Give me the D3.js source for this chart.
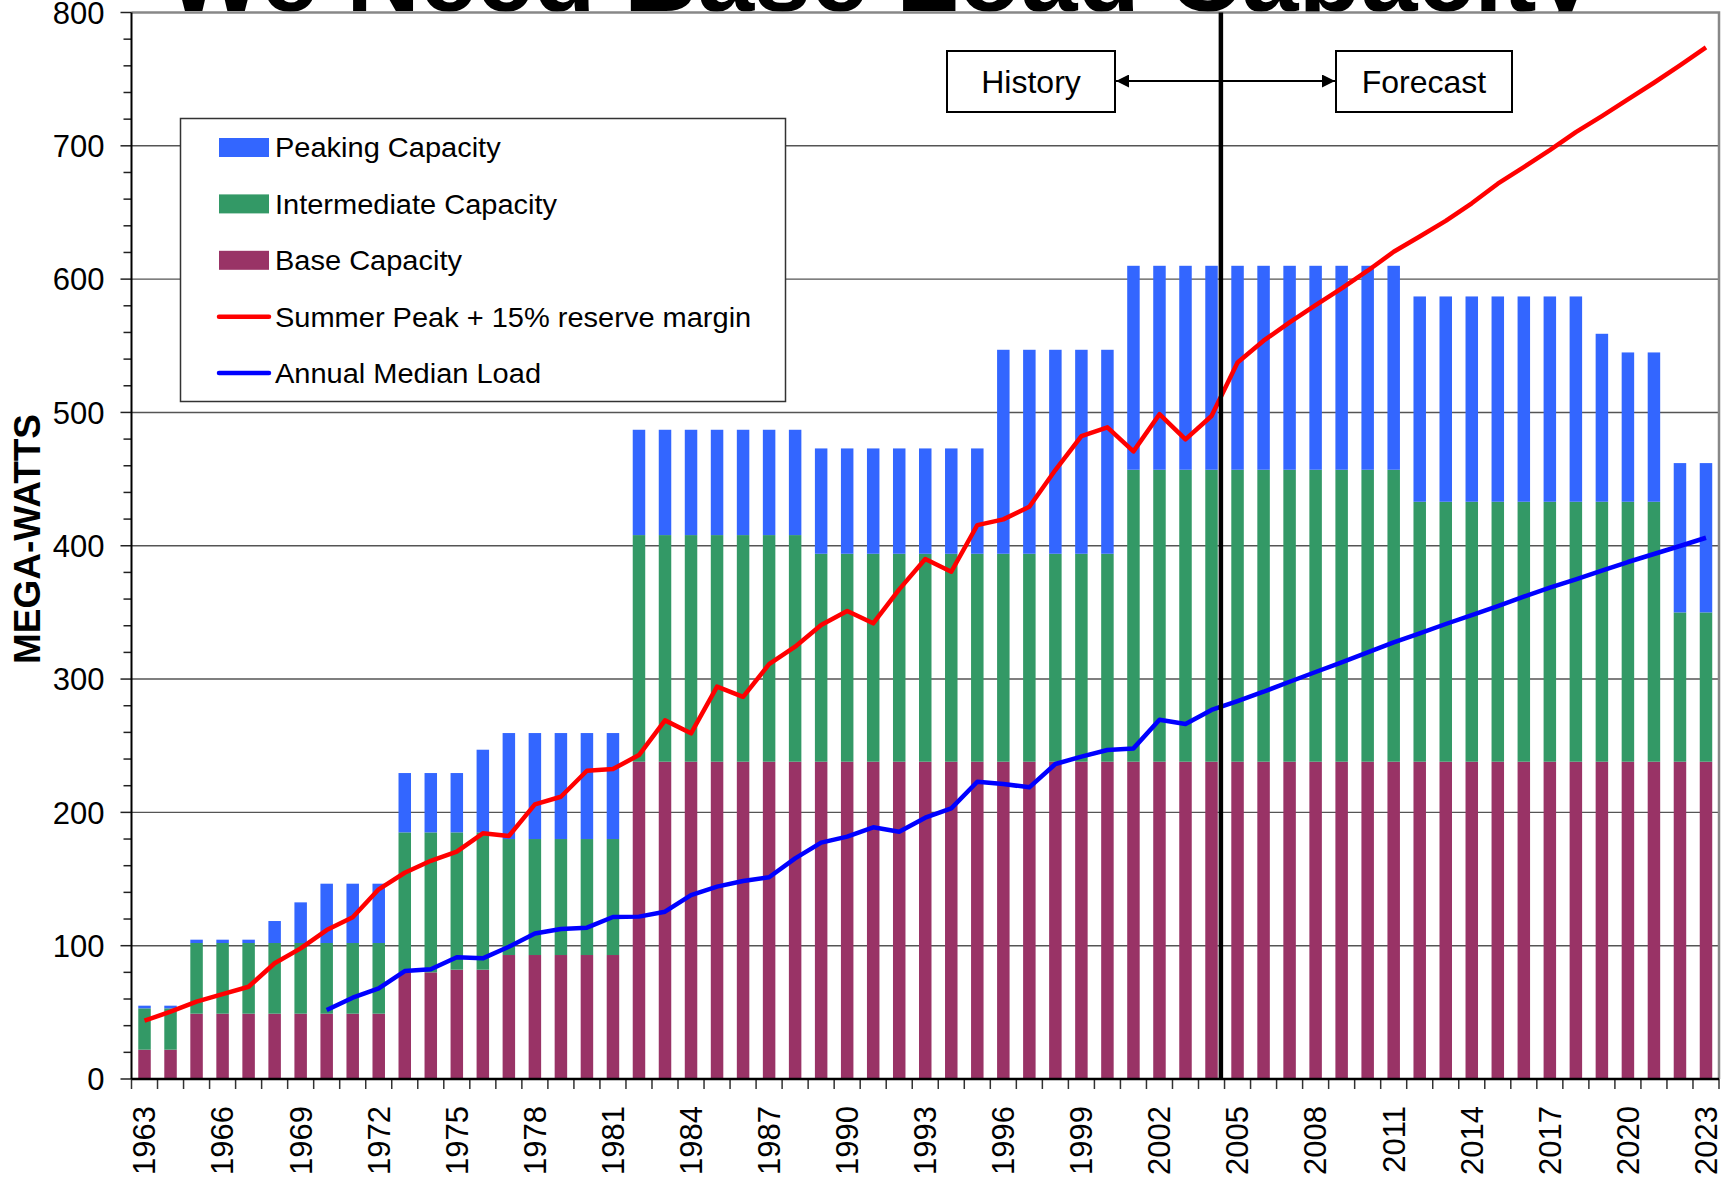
<!DOCTYPE html>
<html>
<head>
<meta charset="utf-8">
<script src="https://cdn.jsdelivr.net/npm/d3@7"></script>
<style>
  html, body { margin: 0; padding: 0; background: #fff; }
  svg { display: block; font-family: "Liberation Sans", Arial, sans-serif; }
</style>
</head>
<body>
<div id="chart"></div>
<script>
// ---- data (MW) ----
const years = [
  1963, 1964, 1965, 1966, 1967, 1968, 1969, 1970, 1971, 1972,
  1973, 1974, 1975, 1976, 1977, 1978, 1979, 1980, 1981, 1982,
  1983, 1984, 1985, 1986, 1987, 1988, 1989, 1990, 1991, 1992,
  1993, 1994, 1995, 1996, 1997, 1998, 1999, 2000, 2001, 2002,
  2003, 2004, 2005, 2006, 2007, 2008, 2009, 2010, 2011, 2012,
  2013, 2014, 2015, 2016, 2017, 2018, 2019, 2020, 2021, 2022,
  2023
];

const baseCapacity = [
  22, 22, 49, 49, 49, 49, 49, 49, 49, 49,
  80, 80, 82, 82, 93, 93, 93, 93, 93, 238,
  238, 238, 238, 238, 238, 238, 238, 238, 238, 238,
  238, 238, 238, 238, 238, 238, 238, 238, 238, 238,
  238, 238, 238, 238, 238, 238, 238, 238, 238, 238,
  238, 238, 238, 238, 238, 238, 238, 238, 238, 238,
  238
];

const intermediateCapacity = [
  31, 31, 53, 53, 53, 53, 53, 53, 53, 53,
  105, 105, 103, 103, 87, 87, 87, 87, 87, 170,
  170, 170, 170, 170, 170, 170, 156, 156, 156, 156,
  156, 156, 156, 156, 156, 156, 156, 156, 219, 219,
  219, 219, 219, 219, 219, 219, 219, 219, 219, 195,
  195, 195, 195, 195, 195, 195, 195, 195, 195, 112,
  112
];

const peakingCapacity = [
  2, 2, 2.5, 2.5, 2.5, 16.5, 30.5, 44.5, 44.5, 44.5,
  44.5, 44.5, 44.5, 62, 79.5, 79.5, 79.5, 79.5, 79.5, 79,
  79, 79, 79, 79, 79, 79, 79, 79, 79, 79,
  79, 79, 79, 153, 153, 153, 153, 153, 153, 153,
  153, 153, 153, 153, 153, 153, 153, 153, 153, 154,
  154, 154, 154, 154, 154, 154, 126, 112, 112, 112,
  112
];

const summerPeakReserve = [
  43.7, 50.5, 58, 63.7, 69.2, 86.8, 98, 111.7, 121.3, 142.3,
  154.7, 163.7, 170.5, 184.3, 182.3, 206, 211.7, 231.2, 232.5, 243,
  269, 259.3, 294.3, 286.7, 311.2, 324.3, 340.5, 351, 341.8, 367.3,
  390, 380.5, 415.5, 419.8, 429.3, 456.8, 482.3, 488.8, 470.8, 498.7,
  479.8, 497.3, 537.5, 553.8, 567.5, 580.5, 593, 606.3, 620.5, 632,
  643.7, 656.9, 671.6, 684, 696.8, 710.3, 722.3, 734.8, 747.3, 760.3,
  773.8
];

const medianLoad = [
  null, null, null, null, null, null, null, 51.7, 61, 68,
  81, 82.3, 91.3, 90.5, 99.2, 109.2, 112.5, 113.5, 121.5, 121.8,
  125.5, 138, 144.3, 148.5, 151.3, 165.5, 177.3, 181.8, 188.8, 185.5,
  196, 203, 223, 221.3, 218.8, 236.3, 241.8, 246.8, 248, 269.5,
  266.3, 276.8, 283.5, 290.5, 298, 305.3, 312.5, 320, 327.5, 334.3,
  341.3, 348, 354.8, 361.8, 368.5, 374.8, 381.3, 387.8, 393.8, 399.8,
  406
];

const yTicks = [0, 100, 200, 300, 400, 500, 600, 700, 800];
const yMinorTicks = d3.range(0, 801, 20);
const xLabelYears = [1963, 1966, 1969, 1972, 1975, 1978, 1981, 1984, 1987, 1990,
  1993, 1996, 1999, 2002, 2005, 2008, 2011, 2014, 2017, 2020, 2023];

const legendItems = [
  { label: "Peaking Capacity", type: "rect", color: "#3366FF" },
  { label: "Intermediate Capacity", type: "rect", color: "#339966" },
  { label: "Base Capacity", type: "rect", color: "#993366" },
  { label: "Summer Peak + 15% reserve margin", type: "line", color: "#FF0000" },
  { label: "Annual Median Load", type: "line", color: "#0000FF" }
];

const colors = { base: "#993366", intermediate: "#339966", peaking: "#3366FF" };

// ---- layout ----
const width = 1736, height = 1183;
const margin = { top: 12.5, right: 17, bottom: 104, left: 131.5 };

const svg = d3.select("#chart").append("svg")
  .attr("width", width)
  .attr("height", height);

const x = d3.scaleBand()
  .domain(years)
  .range([margin.left, width - margin.right])
  .paddingInner(0.52)
  .paddingOuter(0.26);

const y = d3.scaleLinear()
  .domain([0, 800])
  .range([height - margin.bottom, margin.top]);

const plotLeft = margin.left, plotRight = width - margin.right;
const plotTop = margin.top, plotBottom = height - margin.bottom;

// title (cut off at the top, the plot area covers its lower part)
svg.append("text")
  .attr("x", 880)
  .attr("y", 11)
  .attr("text-anchor", "middle")
  .style("font-size", "102px")
  .style("font-weight", "bold")
  .text("We Need Base Load Capacity");

svg.append("rect")
  .attr("x", plotLeft).attr("y", plotTop)
  .attr("width", plotRight - plotLeft).attr("height", plotBottom - plotTop)
  .attr("fill", "#fff");

// gridlines
svg.append("g")
  .selectAll("line")
  .data(yTicks.filter(d => d > 0 && d < 800))
  .join("line")
  .attr("x1", plotLeft).attr("x2", plotRight)
  .attr("y1", d => y(d)).attr("y2", d => y(d))
  .attr("stroke", "#555")
  .attr("stroke-width", 1.4);

// plot border (top, right)
svg.append("path")
  .attr("d", `M${plotLeft},${plotTop}H${plotRight}V${plotBottom}`)
  .attr("fill", "none")
  .attr("stroke", "#888")
  .attr("stroke-width", 2.5);

// stacked bars
const table = years.map((yr, i) => ({
  year: yr,
  base: baseCapacity[i],
  intermediate: intermediateCapacity[i],
  peaking: peakingCapacity[i]
}));
const series = d3.stack().keys(["base", "intermediate", "peaking"])(table);

svg.append("g")
  .selectAll("g")
  .data(series)
  .join("g")
  .attr("fill", d => colors[d.key])
  .selectAll("rect")
  .data(d => d)
  .join("rect")
  .attr("x", d => x(d.data.year))
  .attr("y", d => y(d[1]))
  .attr("width", x.bandwidth())
  .attr("height", d => y(d[0]) - y(d[1]));

// lines
const cx = yr => x(yr) + x.bandwidth() / 2;
const line = d3.line()
  .defined(d => d.v != null)
  .x(d => cx(d.year))
  .y(d => y(d.v));

svg.append("path")
  .datum(years.map((yr, i) => ({ year: yr, v: summerPeakReserve[i] })))
  .attr("d", line)
  .attr("fill", "none")
  .attr("stroke", "#FF0000")
  .attr("stroke-width", 4.5)
  .attr("stroke-linejoin", "round");

svg.append("path")
  .datum(years.map((yr, i) => ({ year: yr, v: medianLoad[i] })))
  .attr("d", line)
  .attr("fill", "none")
  .attr("stroke", "#0000FF")
  .attr("stroke-width", 4.5)
  .attr("stroke-linejoin", "round");

// history / forecast divider
const dividerX = x(2005) - x.step() * 0.4;
svg.append("line")
  .attr("x1", dividerX).attr("x2", dividerX)
  .attr("y1", plotTop).attr("y2", plotBottom)
  .attr("stroke", "#000")
  .attr("stroke-width", 4.5);

// x axis: boundary ticks + labels every 3 years
const xAxis = svg.append("g");
const boundaries = years.map(yr => x(yr) - x.step() * x.paddingOuter()).concat([plotRight]);
xAxis.selectAll("line.tick")
  .data(boundaries)
  .join("line")
  .attr("class", "tick")
  .attr("x1", d => d).attr("x2", d => d)
  .attr("y1", plotBottom).attr("y2", plotBottom + 10)
  .attr("stroke", "#333")
  .attr("stroke-width", 1.5);

xAxis.selectAll("text")
  .data(xLabelYears)
  .join("text")
  .attr("transform", d => `translate(${cx(d)},${plotBottom + 27}) rotate(-90)`)
  .attr("text-anchor", "end")
  .attr("dy", "0.35em")
  .style("font-size", "31px")
  .text(d => d);

xAxis.append("line")
  .attr("x1", plotLeft).attr("x2", plotRight)
  .attr("y1", plotBottom).attr("y2", plotBottom)
  .attr("stroke", "#000")
  .attr("stroke-width", 2.5);

// y axis
const yAxis = svg.append("g");
yAxis.selectAll("line.minor")
  .data(yMinorTicks)
  .join("line")
  .attr("class", "minor")
  .attr("x1", d => plotLeft - (d % 100 === 0 ? 11 : 8)).attr("x2", plotLeft)
  .attr("y1", d => y(d)).attr("y2", d => y(d))
  .attr("stroke", "#222")
  .attr("stroke-width", 1.5);

yAxis.selectAll("text")
  .data(yTicks)
  .join("text")
  .attr("x", plotLeft - 27)
  .attr("y", d => y(d))
  .attr("dy", "0.36em")
  .attr("text-anchor", "end")
  .style("font-size", "31px")
  .text(d => d);

yAxis.append("line")
  .attr("x1", plotLeft).attr("x2", plotLeft)
  .attr("y1", plotTop).attr("y2", plotBottom)
  .attr("stroke", "#000")
  .attr("stroke-width", 2);

svg.append("text")
  .attr("transform", `translate(27,539) rotate(-90)`)
  .attr("text-anchor", "middle")
  .attr("dy", "0.36em")
  .style("font-size", "37px")
  .style("font-weight", "bold")
  .text("MEGA-WATTS");

// history / forecast annotation
const defs = svg.append("defs");
defs.append("marker")
  .attr("id", "arrow")
  .attr("viewBox", "0 0 10 10")
  .attr("refX", 10).attr("refY", 5)
  .attr("markerWidth", 13).attr("markerHeight", 13)
  .attr("markerUnits", "userSpaceOnUse")
  .attr("orient", "auto-start-reverse")
  .append("path")
  .attr("d", "M0,0L10,5L0,10Z")
  .attr("fill", "#000");

const boxes = [
  { label: "History", x0: 947, x1: 1115 },
  { label: "Forecast", x0: 1336, x1: 1512 }
];
const boxTop = 51, boxBottom = 112, arrowY = 81;

svg.append("line")
  .attr("x1", boxes[0].x1 + 1).attr("x2", boxes[1].x0 - 1)
  .attr("y1", arrowY).attr("y2", arrowY)
  .attr("stroke", "#000")
  .attr("stroke-width", 2)
  .attr("marker-start", "url(#arrow)")
  .attr("marker-end", "url(#arrow)");

const boxG = svg.append("g").selectAll("g").data(boxes).join("g");
boxG.append("rect")
  .attr("x", d => d.x0).attr("y", boxTop)
  .attr("width", d => d.x1 - d.x0).attr("height", boxBottom - boxTop)
  .attr("fill", "#fff")
  .attr("stroke", "#000")
  .attr("stroke-width", 2);
boxG.append("text")
  .attr("x", d => (d.x0 + d.x1) / 2)
  .attr("y", (boxTop + boxBottom) / 2)
  .attr("dy", "0.36em")
  .attr("text-anchor", "middle")
  .style("font-size", "32px")
  .text(d => d.label);

// legend
const legend = svg.append("g");
legend.append("rect")
  .attr("x", 180.5).attr("y", 118.5)
  .attr("width", 605).attr("height", 283)
  .attr("fill", "#fff")
  .attr("stroke", "#333")
  .attr("stroke-width", 1.5);

const rows = legend.selectAll("g")
  .data(legendItems)
  .join("g")
  .attr("transform", (d, i) => `translate(219,${147.5 + i * 56.4})`);

rows.filter(d => d.type === "rect")
  .append("rect")
  .attr("x", 0).attr("y", -9.5)
  .attr("width", 50).attr("height", 19)
  .attr("fill", d => d.color);

rows.filter(d => d.type === "line")
  .append("line")
  .attr("x1", 0).attr("x2", 50)
  .attr("y1", 0).attr("y2", 0)
  .attr("stroke", d => d.color)
  .attr("stroke-width", 4.5)
  .attr("stroke-linecap", "round");

// the original legend text is a little wider than the font, so stretch it
rows.append("text")
  .attr("transform", "translate(56,0) scale(1.055,1)")
  .attr("dy", "0.36em")
  .style("font-size", "27.5px")
  .text(d => d.label);
</script>
</body>
</html>
